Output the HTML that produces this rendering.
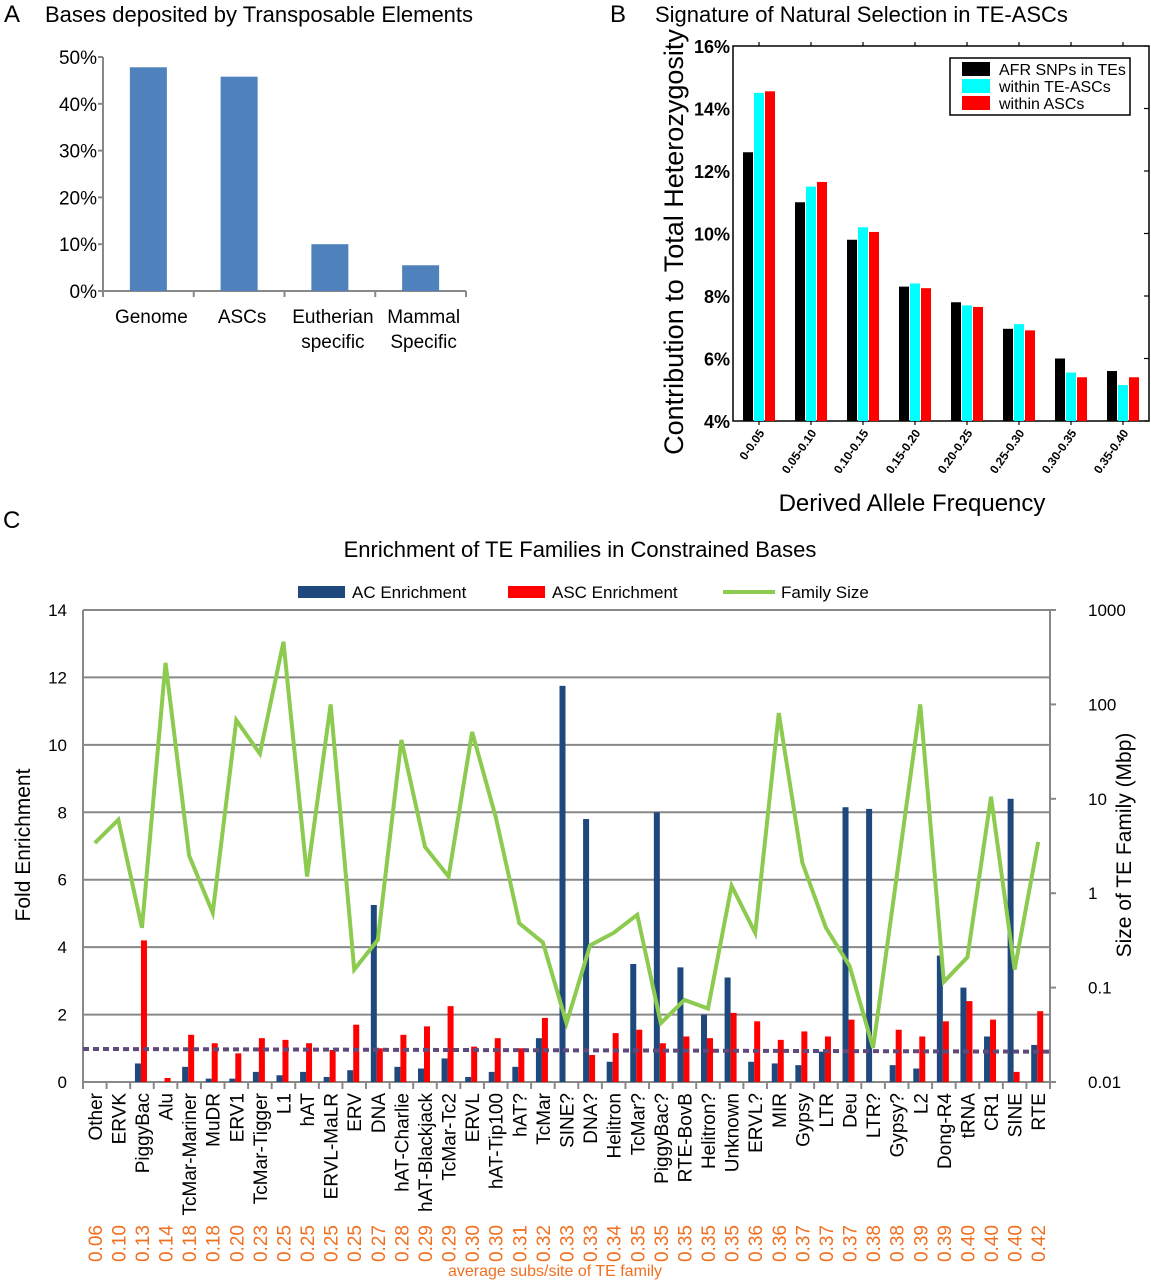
<!DOCTYPE html>
<html><head><meta charset="utf-8"><style>
html,body{margin:0;padding:0;background:#fff;}
svg{display:block;font-family:"Liberation Sans",Arial,sans-serif;}
</style></head><body>
<svg id="fig" width="1151" height="1280" viewBox="0 0 1151 1280" xmlns="http://www.w3.org/2000/svg">
<g id="pa"></g>
<g id="pb"></g>
<g id="pc"></g>
</svg>
<script>
// Panel A data
const aCats = [["Genome"],["ASCs"],["Eutherian","specific"],["Mammal","Specific"]];
const aVals = [47.8, 45.8, 10.0, 5.5];
const aTicks = [0,10,20,30,40,50];
// Panel B data
const bCats = ["0-0.05","0.05-0.10","0.10-0.15","0.15-0.20","0.20-0.25","0.25-0.30","0.30-0.35","0.35-0.40"];
const bBlack = [12.6, 11.0, 9.8, 8.3, 7.8, 6.95, 6.0, 5.6];
const bCyan = [14.5, 11.5, 10.2, 8.4, 7.7, 7.1, 5.55, 5.15];
const bRed = [14.55, 11.65, 10.05, 8.25, 7.65, 6.9, 5.4, 5.4];
const bTicks = [4,6,8,10,12,14,16];
// Panel C data
const cCats = ["Other","ERVK","PiggyBac","Alu","TcMar-Mariner","MuDR","ERV1","TcMar-Tigger","L1","hAT","ERVL-MaLR","ERV","DNA","hAT-Charlie","hAT-Blackjack","TcMar-Tc2","ERVL","hAT-Tip100","hAT?","TcMar","SINE?","DNA?","Helitron","TcMar?","PiggyBac?","RTE-BovB","Helitron?","Unknown","ERVL?","MIR","Gypsy","LTR","Deu","LTR?","Gypsy?","L2","Dong-R4","tRNA","CR1","SINE","RTE"];
const cSubs = ["0.06","0.10","0.13","0.14","0.18","0.18","0.20","0.23","0.25","0.25","0.25","0.25","0.27","0.28","0.29","0.29","0.30","0.30","0.31","0.32","0.33","0.33","0.34","0.35","0.35","0.35","0.35","0.35","0.36","0.36","0.37","0.37","0.37","0.38","0.38","0.39","0.39","0.40","0.40","0.40","0.42"];
const cAC = [0,0,0.55,0,0.45,0.1,0.1,0.3,0.2,0.3,0.15,0.35,5.25,0.45,0.4,0.7,0.15,0.3,0.45,1.3,11.75,7.8,0.6,3.5,8.0,3.4,2.0,3.1,0.6,0.55,0.5,0.9,8.15,8.1,0.5,0.4,3.75,2.8,1.35,8.4,1.1];
const cASC = [0,0,4.2,0.12,1.4,1.15,0.85,1.3,1.25,1.15,0.95,1.7,1.0,1.4,1.65,2.25,1.05,1.3,1.0,1.9,0,0.8,1.45,1.55,1.15,1.35,1.3,2.05,1.8,1.25,1.5,1.35,1.85,0,1.55,1.35,1.8,2.4,1.85,0.3,2.1];
const cSize = [3.4,6,0.43,275,2.5,0.62,68,30,460,1.5,100,0.155,0.32,42,3.1,1.5,51,6.4,0.48,0.3,0.042,0.28,0.38,0.59,0.042,0.074,0.06,1.2,0.38,81,2.1,0.43,0.17,0.023,1.5,100,0.115,0.21,10.5,0.155,3.5];
const cTrend = [0.98, 0.9];
const cLeftTicks = [0,2,4,6,8,10,12,14];
const cRightTicks = ["0.01","0.1","1","10","100","1000"];

const NS="http://www.w3.org/2000/svg";
function mk(parent, tag, attrs, text){
  const e=document.createElementNS(NS,tag);
  for(const k in attrs) e.setAttribute(k,attrs[k]);
  if(text!==undefined) e.textContent=text;
  parent.appendChild(e); return e;
}
// ---------- Panel A ----------
const pa=document.getElementById('pa');
let t=mk(pa,'text',{x:4,y:22,'font-size':24},'A');


t=mk(pa,'text',{x:45,y:22,'font-size':22},'Bases deposited by Transposable Elements');


const aX0=103,aX1=466,aY0=291,aY1=57;
const aY=v=>aY0-(v/50)*(aY0-aY1);
const aBand=(aX1-aX0)/aCats.length;
let ln=mk(pa,'line',{x1:aX0,y1:aY1,x2:aX0,y2:aY0,stroke:'#888','stroke-width':2});


ln=mk(pa,'line',{x1:aX0-4,y1:aY0,x2:aX1,y2:aY0,stroke:'#888','stroke-width':2});


aTicks.forEach(v=>{
  mk(pa,'line',{x1:aX0-5,y1:aY(v),x2:aX0,y2:aY(v),stroke:'#888','stroke-width':2});
  const tl=mk(pa,'text',{x:97,y:aY(v)+7,'font-size':19,'text-anchor':'end'},v+'%');
  
  
});
for(let i=0;i<=aCats.length;i++) mk(pa,'line',{x1:aX0+i*aBand,y1:aY0,x2:aX0+i*aBand,y2:aY0+6,stroke:'#888','stroke-width':2});
aCats.forEach((c,i)=>{
  const cx=aX0+(i+0.5)*aBand;
  const b=mk(pa,'rect',{x:cx-18.5,y:aY(aVals[i]),width:37,height:aY0-aY(aVals[i]),fill:'#4f81bd'});
  
  
  c.forEach((l,j)=>{
    const tl=mk(pa,'text',{x:cx+3,y:323+j*25,'font-size':19,'text-anchor':'middle'},l);
    
    
  });
});
// ---------- Panel B ----------
const pb=document.getElementById('pb');
t=mk(pb,'text',{x:610,y:22,'font-size':24},'B');


t=mk(pb,'text',{x:655,y:22,'font-size':22},'Signature of Natural Selection in TE-ASCs');


const bX0=733,bX1=1149,bY0=421,bY1=46;
const bY=v=>bY0-(v-4)/12*(bY0-bY1);
const bBand=(bX1-bX0)/bCats.length;
let fr=mk(pb,'rect',{x:bX0,y:bY1,width:bX1-bX0,height:bY0-bY1,fill:'none',stroke:'#000','stroke-width':1.5});


bTicks.forEach(v=>{
  mk(pb,'line',{x1:bX1-5,y1:bY(v),x2:bX1,y2:bY(v),stroke:'#000','stroke-width':1.2});
  const tl=mk(pb,'text',{x:730,y:bY(v)+7,'font-size':18,'font-weight':'bold','text-anchor':'end'},v+'%');
  
  
});
const bSeries=[[bBlack,'#000'],[bCyan,'#00ffff'],[bRed,'#ff0000']];
bCats.forEach((c,i)=>{
  const cx=bX0+(i+0.5)*bBand;
  mk(pb,'line',{x1:cx,y1:bY1,x2:cx,y2:bY1-4,stroke:'#000','stroke-width':1.2});
  mk(pb,'line',{x1:cx,y1:bY0,x2:cx,y2:bY0+4,stroke:'#000','stroke-width':1.2});
  bSeries.forEach((s,k)=>{
    const x=cx-16+k*11;
    const b=mk(pb,'rect',{x:x,y:bY(s[0][i]),width:10,height:bY0-bY(s[0][i]),fill:s[1]});
    
    
  });
  const tl=mk(pb,'text',{x:cx+6,y:433,'font-size':12,'font-weight':'bold','text-anchor':'end',transform:`rotate(-55 ${cx+6} 433)`},c);
  
  
});
t=mk(pb,'text',{x:683,y:242,'font-size':27,'text-anchor':'middle',transform:'rotate(-90 683 242)'},'Contribution to Total Heterozygosity');


t=mk(pb,'text',{x:912,y:511,'font-size':24,'text-anchor':'middle'},'Derived Allele Frequency');


const lg=mk(pb,'g',{});


mk(lg,'rect',{x:950,y:58,width:180,height:57,fill:'#fff',stroke:'#000','stroke-width':1.5});
["AFR SNPs in TEs","within TE-ASCs","within ASCs"].forEach((l,k)=>{
  mk(lg,'rect',{x:962,y:62+k*17,width:28,height:14,fill:bSeries[k][1]});
  const tl=mk(lg,'text',{x:999,y:75+k*17,'font-size':16},l);
  
  
});
// ---------- Panel C ----------
const pc=document.getElementById('pc');
t=mk(pc,'text',{x:3,y:528,'font-size':24},'C');


t=mk(pc,'text',{x:580,y:557,'font-size':22,'text-anchor':'middle'},'Enrichment of TE Families in Constrained Bases');


const cX0=83,cX1=1050,cY0=1082,cY1=610;
const cY=v=>cY0-v/14*(cY0-cY1);
const cYR=v=>cY0-(Math.log10(v)+2)/5*(cY0-cY1);
const cBand=(cX1-cX0)/cCats.length;
cLeftTicks.forEach(v=>{
  const g=mk(pc,'line',{x1:cX0,y1:cY(v),x2:cX1,y2:cY(v),stroke:'#888','stroke-width':2});
  
  
  const tl=mk(pc,'text',{x:67,y:cY(v)+6,'font-size':17,'text-anchor':'end'},v);
  
  
});
mk(pc,'line',{x1:cX0,y1:cY1,x2:cX0,y2:cY0,stroke:'#888','stroke-width':2});
ln=mk(pc,'line',{x1:cX1,y1:cY1,x2:cX1,y2:cY0,stroke:'#888','stroke-width':2});


cRightTicks.forEach(s=>{
  const v=parseFloat(s);
  mk(pc,'line',{x1:cX1,y1:cYR(v),x2:cX1+6,y2:cYR(v),stroke:'#888','stroke-width':2});
  const tl=mk(pc,'text',{x:1088,y:cYR(v)+6,'font-size':17},s);
  
  
});
for(let i=0;i<=cCats.length;i++) mk(pc,'line',{x1:cX0+i*cBand,y1:cY0,x2:cX0+i*cBand,y2:cY0+7,stroke:'#888','stroke-width':2});
let pts=[];
cCats.forEach((c,i)=>{
  const cx=cX0+(i+0.5)*cBand;
  let b=mk(pc,'rect',{x:cx-7,y:cY(cAC[i]),width:6,height:cY0-cY(cAC[i]),fill:'#1f497d'});
  
  
  b=mk(pc,'rect',{x:cx-1,y:cY(cASC[i]),width:6,height:cY0-cY(cASC[i]),fill:'#ff0000'});
  
  
  pts.push(cx+','+cYR(cSize[i]));
  const tl=mk(pc,'text',{x:cx+7,y:1093,'font-size':19,'text-anchor':'end',transform:`rotate(-90 ${cx+7} 1093)`},c);
  
  
  const sl=mk(pc,'text',{x:cx+7,y:1262,'font-size':19,fill:'#f07020',transform:`rotate(-90 ${cx+7} 1262)`},cSubs[i]);
  
  
});
const tr=mk(pc,'line',{x1:cX0,y1:cY(cTrend[0]),x2:cX1,y2:cY(cTrend[1]),stroke:'#604a7b','stroke-width':4,'stroke-dasharray':'6 4'});


const pl=mk(pc,'polyline',{points:pts.join(' '),fill:'none',stroke:'#8ccb4f','stroke-width':4,'stroke-linejoin':'miter'});


// legend
const lc=mk(pc,'g',{});


mk(lc,'rect',{x:298,y:586,width:47,height:12,fill:'#1f497d'});
let le=mk(lc,'text',{x:352,y:598,'font-size':17},'AC Enrichment');


mk(lc,'rect',{x:508,y:586,width:37,height:12,fill:'#ff0000'});
le=mk(lc,'text',{x:552,y:598,'font-size':17},'ASC Enrichment');


mk(lc,'line',{x1:723,y1:592,x2:775,y2:592,stroke:'#8ccb4f','stroke-width':4});
le=mk(lc,'text',{x:781,y:598,'font-size':17},'Family Size');


t=mk(pc,'text',{x:30,y:845,'font-size':21,'text-anchor':'middle',transform:'rotate(-90 30 845)'},'Fold Enrichment');


t=mk(pc,'text',{x:1131,y:845,'font-size':21,'text-anchor':'middle',transform:'rotate(-90 1131 845)'},'Size of TE Family (Mbp)');


t=mk(pc,'text',{x:555,y:1276,'font-size':16,fill:'#f07020','text-anchor':'middle'},'average subs/site of TE family');


</script>
</body></html>
